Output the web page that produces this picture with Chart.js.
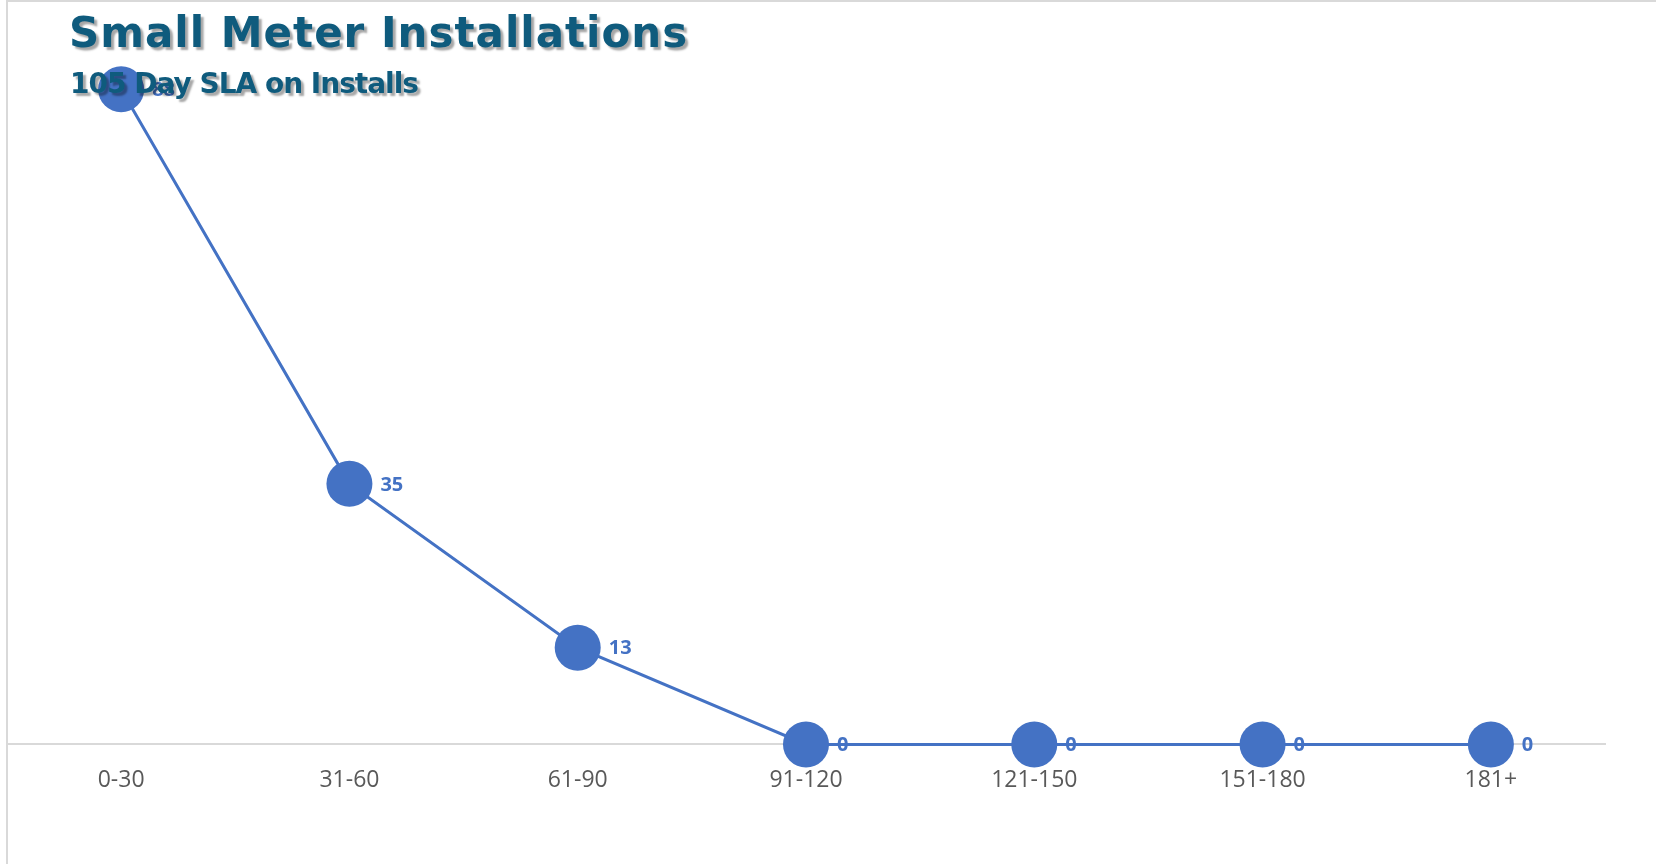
<!DOCTYPE html>
<html>
<head>
<meta charset="utf-8">
<script src="https://cdn.jsdelivr.net/npm/chart.js@4"></script>
<style>
    html, body { margin: 0; padding: 0; background: #fff; }
    #wrap { position: relative; width: 1656px; height: 864px; overflow: hidden; }
    #frame {
        position: absolute; left: 6px; top: 0; right: 0; bottom: 0;
        border-left: 2px solid #d9d9d9; border-top: 2px solid #d9d9d9;
        pointer-events: none;
    }
    .heading {
        position: absolute; margin: 0; white-space: nowrap;
        font-family: "DejaVu Sans", sans-serif; font-weight: 700; color: #0f5b7d;
        line-height: 1; text-shadow: 3px 3px 2px rgba(0, 0, 0, 0.35);
    }
    #title { left: 69px; top: 12px; font-size: 42px; letter-spacing: 1px; }
    #subtitle { left: 70px; top: 70px; font-size: 28px; letter-spacing: -1px; }
</style>
</head>
<body>
<div id="wrap">
    <canvas id="chart" width="1656" height="864"></canvas>
    <div id="frame"></div>
    <div class="heading" id="title">Small Meter Installations</div>
    <div class="heading" id="subtitle">105 Day SLA on Installs</div>
</div>
<script>
// Data
const categories = ['0-30', '31-60', '61-90', '91-120', '121-150', '151-180', '181+'];
const installs = [88, 35, 13, 0, 0, 0, 0];

const blue = '#4472c4';

// value labels to the right of each marker
const pointLabels = {
    id: 'pointLabels',
    afterDatasetsDraw(chart) {
        const ctx = chart.ctx;
        const meta = chart.getDatasetMeta(0);
        ctx.save();
        ctx.font = 'bold 20px "Open Sans", sans-serif';
        ctx.fillStyle = blue;
        ctx.textAlign = 'left';
        ctx.textBaseline = 'middle';
        meta.data.forEach((pt, i) => {
            ctx.fillText(String(installs[i]), pt.x + 31, pt.y + 1);
        });
        ctx.restore();
    }
};

const ctx = document.getElementById('chart').getContext('2d');
new Chart(ctx, {
    type: 'line',
    data: {
        labels: categories,
        datasets: [{
            data: installs,
            borderColor: blue,
            backgroundColor: blue,
            borderWidth: 3,
            pointRadius: 23,
            pointHoverRadius: 23,
            pointBackgroundColor: blue,
            pointBorderWidth: 0,
            tension: 0,
            clip: false
        }]
    },
    options: {
        responsive: false,
        animation: false,
        events: [],
        layout: {
            autoPadding: false,
            padding: { left: 7, right: 51, top: 0, bottom: 48 }
        },
        plugins: {
            legend: { display: false },
            tooltip: { enabled: false }
        },
        scales: {
            x: {
                offset: true,
                grid: { display: false, drawTicks: false },
                border: { display: true, color: '#d9d9d9', width: 2 },
                ticks: {
                    color: '#595959',
                    padding: 22,
                    font: { family: '"Open Sans", sans-serif', size: 23 }
                },
                afterFit(scale) {
                    // keep the plot area flush with the layout padding
                    scale.paddingLeft = 0;
                    scale.paddingRight = 0;
                }
            },
            y: {
                display: false,
                min: 0,
                max: 100
            }
        }
    },
    plugins: [pointLabels]
});
</script>
</body>
</html>
